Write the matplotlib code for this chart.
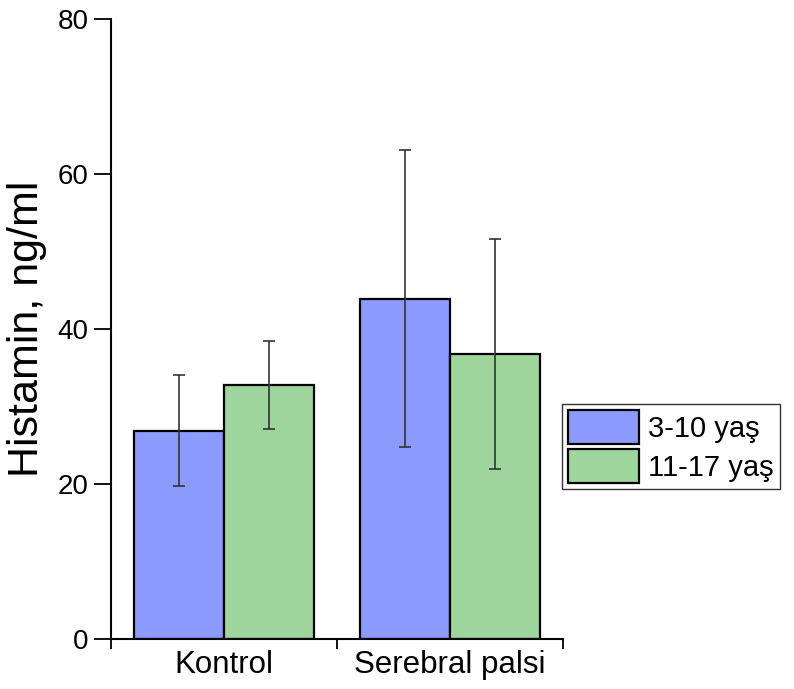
import matplotlib
matplotlib.use("Agg")
import matplotlib.pyplot as plt
import numpy as np

plt.rcParams['font.family'] = ['Liberation Sans', 'DejaVu Sans']

categories = ["Kontrol", "Serebral palsi"]
series_names = ["3-10 yaş", "11-17 yaş"]
means_3_10 = [26.9, 43.9]
sd_3_10 = [7.2, 19.1]
means_11_17 = [32.8, 36.8]
sd_11_17 = [5.7, 14.85]

colors = ["#8d9afd", "#9dd59c"]

fig = plt.figure(figsize=(7.94, 6.89), dpi=100)
ax = fig.add_axes([0.1398, 0.0721, 0.709 - 0.1398, 0.9731 - 0.0721])

x = np.arange(1, len(categories) + 1)
w = 0.4
for i, (m, s, name) in enumerate([(means_3_10, sd_3_10, series_names[0]),
                                    (means_11_17, sd_11_17, series_names[1])]):
    pos = x - w / 2 + i * w
    ax.bar(pos, m, width=w, color=colors[i], edgecolor="black", linewidth=1.6,
           label=name, zorder=2)
    ax.errorbar(pos, m, yerr=s, fmt="none", ecolor="#333333", elinewidth=1.2,
                capsize=4.4, capthick=1.2, zorder=3)

ax.set_xlim(0.5, 2.5)
ax.set_ylim(0, 80)
ax.set_yticks([0, 20, 40, 60, 80])
ax.set_xticks([0.5, 1.5, 2.5])
ax.set_xticklabels([])
ax.set_xticks(x, minor=True)
ax.set_xticklabels(categories, minor=True, fontsize=22.5)
ax.tick_params(axis="x", which="minor", length=0, pad=8)
ax.tick_params(axis="x", which="major", length=7, width=1.3, direction="out")
ax.tick_params(axis="y", length=12, width=1.3, direction="out", labelsize=20, pad=4)

for side in ["top", "right"]:
    ax.spines[side].set_visible(False)
for side in ["left", "bottom"]:
    ax.spines[side].set_linewidth(1.5)

ax.set_ylabel("Histamin, ng/ml", fontsize=31, labelpad=8)

leg = ax.legend(loc="upper left", bbox_to_anchor=(562 / 794, 1 - 404 / 689),
                bbox_transform=fig.transFigure, fontsize=21, frameon=True,
                fancybox=False, edgecolor="#333333", framealpha=1,
                handlelength=2.45, handleheight=1.45, handletextpad=0.3,
                borderpad=0.2, labelspacing=0.15, borderaxespad=0)
leg.get_frame().set_linewidth(1.0)

fig.savefig("out.png", dpi=100)
